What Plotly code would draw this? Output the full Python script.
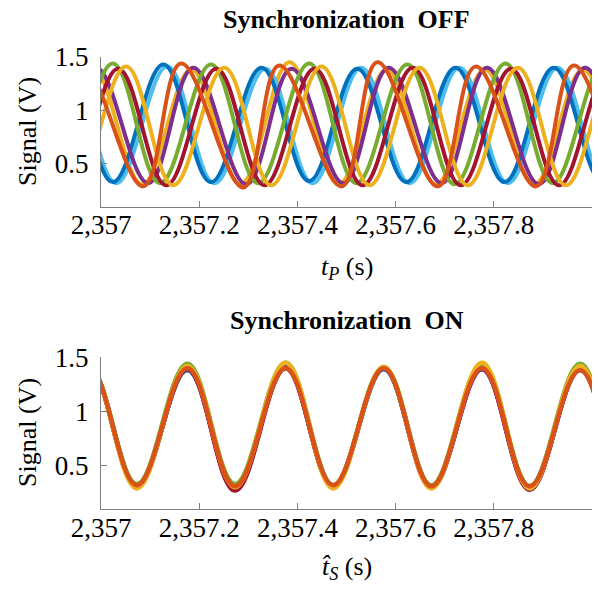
import plotly.graph_objects as go

# ---------------- DATA ----------------
# Time base: extrema times are offsets (s) from 2357 s
T0 = 2357.0

# Colours (MATLAB default order)
C_BLUE = "#0072BD"
C_ORANGE = "#D95319"
C_YELLOW = "#EDB120"
C_PURPLE = "#7E2F8E"
C_GREEN = "#77AC30"
C_LBLUE = "#4DBEEE"
C_DRED = "#A2142F"

# ---- Synchronization OFF: successive peaks/troughs of each signal ----
off_yellow2_t = [-0.116, -0.016, 0.084, 0.184, 0.284, 0.384, 0.484, 0.582, 0.682, 0.782, 0.882, 0.982, 1.082, 1.182]
off_yellow2_v = [0.31, 1.38, 0.31, 1.38, 0.31, 1.45, 0.31, 1.38, 0.31, 1.38, 0.31, 1.38, 0.31, 1.38]

off_lblue_t = [-0.165, -0.066, 0.031, 0.135, 0.231, 0.335, 0.431, 0.530, 0.629, 0.730, 0.829, 0.930, 1.029, 1.130, 1.229]
off_lblue_v = [0.32, 1.40, 0.32, 1.41, 0.32, 1.39, 0.32, 1.40, 0.32, 1.40, 0.32, 1.40, 0.32, 1.40, 0.32]

off_blue_t = [-0.176, -0.073, 0.024, 0.127, 0.224, 0.327, 0.424, 0.522, 0.622, 0.722, 0.822, 0.922, 1.022, 1.122, 1.222]
off_blue_v = [0.33, 1.40, 0.33, 1.43, 0.33, 1.40, 0.34, 1.39, 0.33, 1.40, 0.33, 1.40, 0.33, 1.40, 0.33]

off_purple_t = [-0.212, -0.104, -0.010, 0.096, 0.188, 0.296, 0.388, 0.494, 0.586, 0.694, 0.786, 0.892, 0.986, 1.092, 1.186]
off_purple_v = [1.40, 0.32, 1.40, 0.32, 1.40, 0.31, 1.39, 0.32, 1.40, 0.32, 1.40, 0.31, 1.40, 0.32, 1.40]

off_green_t = [-0.176, -0.080, 0.024, 0.120, 0.224, 0.320, 0.424, 0.520, 0.624, 0.720, 0.824, 0.920, 1.024, 1.120, 1.224]
off_green_v = [1.43, 0.32, 1.44, 0.32, 1.43, 0.32, 1.44, 0.32, 1.43, 0.31, 1.44, 0.32, 1.43, 0.32, 1.43]

off_dred_t = [-0.165, -0.067, 0.035, 0.133, 0.235, 0.333, 0.435, 0.533, 0.635, 0.733, 0.835, 0.933, 1.035, 1.133, 1.235]
off_dred_v = [1.39, 0.30, 1.39, 0.30, 1.39, 0.30, 1.39, 0.30, 1.40, 0.30, 1.39, 0.30, 1.39, 0.30, 1.39]

off_yellow_t = [-0.151, -0.053, 0.051, 0.147, 0.251, 0.347, 0.449, 0.547, 0.649, 0.747, 0.849, 0.947, 1.049, 1.147, 1.249]
off_yellow_v = [1.40, 0.30, 1.41, 0.30, 1.40, 0.30, 1.41, 0.30, 1.40, 0.30, 1.40, 0.30, 1.41, 0.30, 1.40]

off_orange_t = [-0.237, -0.114, -0.037, 0.086, 0.163, 0.290, 0.363, 0.490, 0.563, 0.686, 0.763, 0.886, 0.963, 1.086, 1.163]
off_orange_v = [1.42, 0.29, 1.42, 0.29, 1.44, 0.28, 1.42, 0.29, 1.45, 0.29, 1.41, 0.29, 1.42, 0.29, 1.42]

# ---- Synchronization ON: all signals share the same extrema times ----
on_t = [-0.127, -0.024, 0.073, 0.176, 0.273, 0.376, 0.473, 0.576, 0.673, 0.776, 0.873, 0.976, 1.073, 1.176, 1.273]
on_blue_v = [0.31, 1.40, 0.32, 1.38, 0.31, 1.40, 0.31, 1.39, 0.31, 1.39, 0.31, 1.38, 0.31, 1.40, 0.31]
on_lblue_v = [0.31, 1.40, 0.31, 1.39, 0.31, 1.41, 0.31, 1.40, 0.31, 1.40, 0.31, 1.39, 0.31, 1.40, 0.31]
on_purple_v = [0.31, 1.40, 0.31, 1.40, 0.28, 1.41, 0.31, 1.40, 0.30, 1.39, 0.28, 1.40, 0.31, 1.40, 0.31]
on_dred_v = [0.31, 1.40, 0.31, 1.39, 0.27, 1.40, 0.31, 1.40, 0.31, 1.40, 0.28, 1.39, 0.31, 1.40, 0.31]
on_green_v = [0.32, 1.40, 0.33, 1.44, 0.33, 1.45, 0.32, 1.41, 0.32, 1.44, 0.31, 1.44, 0.32, 1.42, 0.32]
on_yellow_v = [0.30, 1.40, 0.29, 1.42, 0.30, 1.45, 0.29, 1.41, 0.29, 1.45, 0.29, 1.42, 0.30, 1.41, 0.30]
on_orange_v = [0.31, 1.40, 0.32, 1.40, 0.31, 1.40, 0.32, 1.40, 0.31, 1.40, 0.31, 1.38, 0.31, 1.40, 0.31]

# Axes ticks / labels
x_tick_vals = [2357.0, 2357.2, 2357.4, 2357.6, 2357.8]
x_tick_text = ["2,357", "2,357.2", "2,357.4", "2,357.6", "2,357.8"]
y_tick_vals = [0.5, 1.0, 1.5]
y_tick_text = ["0.5", "1", "1.5"]
x_range = [2357.0, 2358.0]
y_range = [0.1, 1.5]

title_top = "<b>Synchronization\u00a0 OFF</b>"
title_bot = "<b>Synchronization\u00a0 ON</b>"
ylabel = "Signal (V)"
xlabel_top = "<i>t</i><sub><i>P</i></sub> (s)"
xlabel_bot = "<i>t\u0302</i><sub><i>S</i></sub> (s)"

# ---------------- FIGURE ----------------
W, H = 598, 590
FONT = "Liberation Serif, Times New Roman, DejaVu Serif, serif"


def fx(p):
    return p / W


def fy(p):
    return 1 - p / H


top_series = [
    (C_YELLOW, off_yellow2_t, off_yellow2_v),
    (C_LBLUE, off_lblue_t, off_lblue_v),
    (C_BLUE, off_blue_t, off_blue_v),
    (C_PURPLE, off_purple_t, off_purple_v),
    (C_GREEN, off_green_t, off_green_v),
    (C_DRED, off_dred_t, off_dred_v),
    (C_YELLOW, off_yellow_t, off_yellow_v),
    (C_ORANGE, off_orange_t, off_orange_v),
]
bot_series = [
    (C_BLUE, on_blue_v),
    (C_LBLUE, on_lblue_v),
    (C_PURPLE, on_purple_v),
    (C_DRED, on_dred_v),
    (C_GREEN, on_green_v),
    (C_YELLOW, on_yellow_v),
    (C_ORANGE, on_orange_v),
]

fig = go.Figure()
for color, t, v in top_series:
    fig.add_trace(go.Scatter(
        x=[T0 + a for a in t], y=v, mode="lines", xaxis="x", yaxis="y",
        line=dict(color=color, width=4, shape="spline", smoothing=1.1),
        showlegend=False, hoverinfo="skip"))
for color, v in bot_series:
    fig.add_trace(go.Scatter(
        x=[T0 + a for a in on_t], y=v, mode="lines", xaxis="x2", yaxis="y2",
        line=dict(color=color, width=4.5, shape="spline", smoothing=1.1),
        showlegend=False, hoverinfo="skip"))

axis_common = dict(
    showline=True, linecolor="#7f7f7f", linewidth=1.3, showgrid=False,
    zeroline=False, ticks="inside", ticklen=6, tickcolor="#7f7f7f",
    tickwidth=1.2, tickfont=dict(family=FONT, size=27, color="black"),
    automargin=False,
)
xdom = [fx(101), fx(592)]
fig.update_layout(
    width=W, height=H, margin=dict(l=0, r=0, t=0, b=0, pad=0),
    paper_bgcolor="white", plot_bgcolor="white", showlegend=False,
    font=dict(family=FONT, color="black"),
    xaxis=dict(domain=xdom, range=x_range, tickvals=x_tick_vals,
               ticktext=x_tick_text, anchor="y", ticklabelstandoff=-6, **axis_common),
    yaxis=dict(domain=[fy(206.7), fy(57)], range=y_range, tickvals=y_tick_vals,
               ticktext=y_tick_text, anchor="x", ticklabelstandoff=6, **axis_common),
    xaxis2=dict(domain=xdom, range=x_range, tickvals=x_tick_vals,
                ticktext=x_tick_text, anchor="y2", ticklabelstandoff=-6, **axis_common),
    yaxis2=dict(domain=[fy(509), fy(357.3)], range=y_range, tickvals=y_tick_vals,
                ticktext=y_tick_text, anchor="x2", ticklabelstandoff=6, **axis_common),
)

cx = fx((101 + 592) / 2)
ann = [
    dict(text=title_top, x=cx, y=fy(19), font=dict(size=26)),
    dict(text=title_bot, x=cx, y=fy(320), font=dict(size=26)),
    dict(text=ylabel, x=fx(27), y=fy(132), textangle=-90, font=dict(size=26)),
    dict(text=ylabel, x=fx(27), y=fy(433), textangle=-90, font=dict(size=26)),
    dict(text=xlabel_top, x=cx, y=fy(268), font=dict(size=26)),
    dict(text=xlabel_bot, x=cx, y=fy(568), font=dict(size=26)),
]
for a in ann:
    a.update(xref="paper", yref="paper", showarrow=False,
             xanchor="center", yanchor="middle")
    a["font"].update(family=FONT, color="black")
fig.update_layout(annotations=ann)

fig.write_html(
    "out.html",
    config={"displayModeBar": False},
    post_script="document.body.style.margin='0';document.body.style.overflow='hidden';",
)
